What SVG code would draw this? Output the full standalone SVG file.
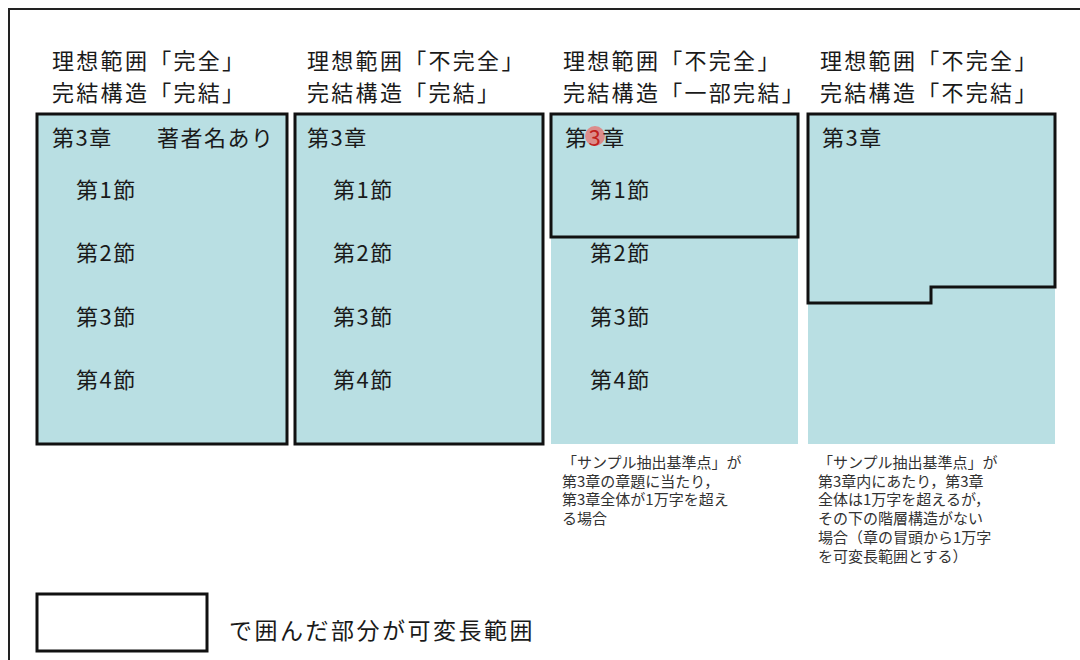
<svg xmlns="http://www.w3.org/2000/svg" width="1080" height="660" viewBox="0 0 1080 660">
<style>
.t{font-family:"Noto Sans CJK JP","Noto Sans CJK SC",sans-serif;fill:#1a1a1a}
.h{font-size:22px;letter-spacing:2.3px}
.c{font-size:22px;letter-spacing:1.5px}
.n{font-size:15px;fill:#333}
.lg{font-size:23px;letter-spacing:2.5px}
.box{fill:#b9dfe3;stroke:#111;stroke-width:3}
.fill{fill:#b9dfe3}
.ln{fill:none;stroke:#111;stroke-width:3}
</style>
<rect width="1080" height="660" fill="#fff"/>
<g id="frame"><path d="M9,660 V9 H1080" fill="none" stroke="#222" stroke-width="2"/></g>

<g id="col1">
<text class="t h" x="52" y="69">理想範囲「完全」</text>
<text class="t h" x="52" y="101">完結構造「完結」</text>
<rect class="box" x="37" y="114" width="250" height="330"/>
<text class="t c" x="52" y="146">第3章</text>
<text class="t c" x="157" y="146">著者名あり</text>
<text class="t c" x="76" y="198">第1節</text>
<text class="t c" x="76" y="261">第2節</text>
<text class="t c" x="76" y="325">第3節</text>
<text class="t c" x="76" y="388">第4節</text>
</g>

<g id="col2">
<text class="t h" x="307" y="69">理想範囲「不完全」</text>
<text class="t h" x="307" y="101">完結構造「完結」</text>
<rect class="box" x="295" y="114" width="248" height="330"/>
<text class="t c" x="307" y="146">第3章</text>
<text class="t c" x="333" y="198">第1節</text>
<text class="t c" x="333" y="261">第2節</text>
<text class="t c" x="333" y="325">第3節</text>
<text class="t c" x="333" y="388">第4節</text>
</g>

<g id="col3">
<text class="t h" x="563" y="69">理想範囲「不完全」</text>
<text class="t h" x="563" y="101">完結構造「一部完結」</text>
<rect class="fill" x="551" y="114" width="247" height="330"/>
<rect class="ln" x="551" y="114" width="247" height="123"/>
<circle cx="595" cy="136" r="10" fill="#e8706e" opacity="0.75"/>
<text class="t c" x="565" y="146">第<tspan fill="#c0201c">3</tspan>章</text>
<text class="t c" x="590" y="198">第1節</text>
<text class="t c" x="590" y="261">第2節</text>
<text class="t c" x="590" y="325">第3節</text>
<text class="t c" x="590" y="388">第4節</text>
<text class="t n" x="562" y="468">「サンプル抽出基準点」が<tspan x="562" dy="18.7">第3章の章題に当たり，</tspan><tspan x="562" dy="18.7">第3章全体が1万字を超え</tspan><tspan x="562" dy="18.7">る場合</tspan></text>
</g>

<g id="col4">
<text class="t h" x="820" y="69">理想範囲「不完全」</text>
<text class="t h" x="820" y="101">完結構造「不完結」</text>
<rect class="fill" x="808" y="114" width="247" height="330"/>
<path class="ln" d="M808,114 H1055 V287 H931 V303 H808 Z"/>
<text class="t c" x="822" y="146">第3章</text>
<text class="t n" x="818" y="468">「サンプル抽出基準点」が<tspan x="818" dy="18.7">第3章内にあたり，第3章</tspan><tspan x="818" dy="18.7">全体は1万字を超えるが，</tspan><tspan x="818" dy="18.7">その下の階層構造がない</tspan><tspan x="818" dy="18.7">場合（章の冒頭から1万字</tspan><tspan x="818" dy="18.7">を可変長範囲とする）</tspan></text>
</g>

<g id="legend">
<rect x="37" y="594" width="170" height="57" fill="#fff" stroke="#111" stroke-width="3"/>
<text class="t lg" x="229" y="639">で囲んだ部分が可変長範囲</text>
</g>
<g id="connectors"/>
</svg>
